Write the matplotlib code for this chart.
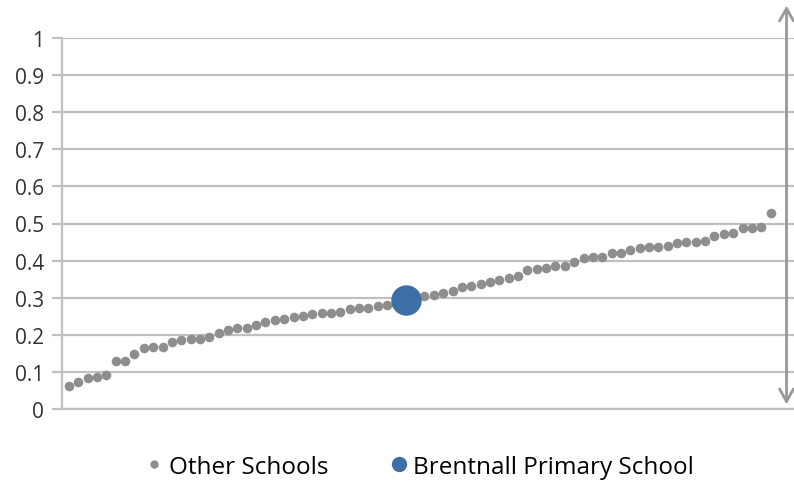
import matplotlib.pyplot as plt
from matplotlib.lines import Line2D

# values, one per school, sorted ascending
other_schools = [
    0.062, 0.074, 0.083, 0.087, 0.091, 0.130, 0.130, 0.148, 0.165, 0.167,
    0.168, 0.180, 0.185, 0.188, 0.190, 0.195, 0.205, 0.213, 0.217, 0.219,
    0.226, 0.234, 0.241, 0.243, 0.248, 0.252, 0.256, 0.258, 0.259, 0.262,
    0.270, 0.271, 0.273, 0.277, 0.279, 0.284, 0.295, 0.300, 0.305, 0.307,
    0.313, 0.319, 0.330, 0.332, 0.337, 0.341, 0.349, 0.353, 0.359, 0.375,
    0.377, 0.379, 0.385, 0.386, 0.397, 0.406, 0.411, 0.411, 0.420, 0.420,
    0.429, 0.433, 0.436, 0.436, 0.440, 0.447, 0.449, 0.451, 0.454, 0.467,
    0.472, 0.474, 0.487, 0.487, 0.490, 0.528,
]
brentnall_rank = 36
brentnall_value = 0.295
y_ticks = [0, 0.1, 0.2, 0.3, 0.4, 0.5, 0.6, 0.7, 0.8, 0.9, 1]
y_labels = ["0", "0.1", "0.2", "0.3", "0.4", "0.5", "0.6", "0.7", "0.8", "0.9", "1"]
legend_labels = ["Other Schools", "Brentnall Primary School"]

GREY = "#8e8e8e"
BLUE = "#3e6ea6"
GRID = "#c0c0c0"

plt.rcParams["font.family"] = ["Open Sans", "DejaVu Sans"]

fig = plt.figure(figsize=(7.94, 4.89), dpi=100)
ax = fig.add_axes([62 / 794, 79 / 489, 732 / 794, 371 / 489])

xs = list(range(len(other_schools)))
ax.scatter(xs, other_schools, s=48, color=GREY, linewidths=0, zorder=3)
ax.scatter([brentnall_rank], [brentnall_value], s=480, color=BLUE, linewidths=0, zorder=4)

ax.set_xlim(-0.75, 77.5)
ax.set_ylim(0, 1)
ax.set_yticks(y_ticks)
ax.set_yticklabels(y_labels, fontsize=15, color="#333333")
ax.set_xticks([])
ax.yaxis.grid(True, color=GRID, linewidth=1.6)
ax.set_axisbelow(True)
ax.tick_params(axis="y", length=7, width=1.6, color=GRID, pad=6)
for side in ["top", "right"]:
    ax.spines[side].set_visible(False)
for side in ["left", "bottom"]:
    ax.spines[side].set_color(GRID)
    ax.spines[side].set_linewidth(1.6)

# double-headed range arrow on the right
ax.annotate("", xy=(76.7, 0.005), xytext=(76.7, 1.095), xycoords="data",
            annotation_clip=False,
            arrowprops=dict(arrowstyle="<->,head_length=0.9,head_width=0.5",
                            color="#999999", lw=2))

handles = [
    Line2D([], [], marker="o", ls="", color=GREY, markersize=5),
    Line2D([], [], marker="o", ls="", color=BLUE, markersize=10),
]
fig.legend(handles, legend_labels, loc="center", bbox_to_anchor=(0.528, 0.043),
           ncol=2, frameon=False, fontsize=17.5, handletextpad=0.2,
           columnspacing=2.5, handlelength=0.8)

fig.savefig("out.png", dpi=100)
